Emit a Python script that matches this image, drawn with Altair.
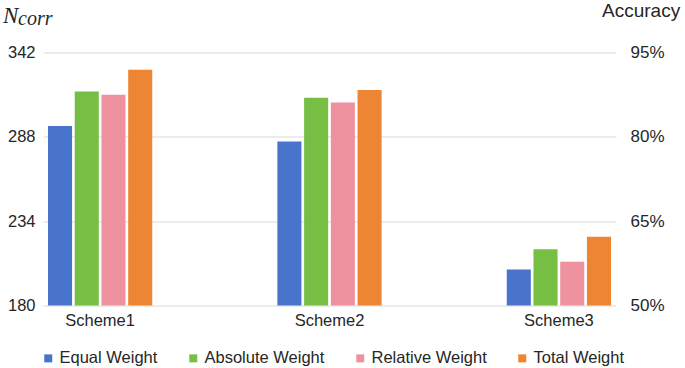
import altair as alt
import pandas as pd

# Categories and series
schemes = ["Scheme1", "Scheme2", "Scheme3"]
methods = ["Equal Weight", "Absolute Weight", "Relative Weight", "Total Weight"]
colors = ["#4874CB", "#77BE45", "#EE929F", "#EE8533"]

# Number of correctly handled samples per scheme
equal_weight = [295, 285, 203]
absolute_weight = [317, 313, 216]
relative_weight = [315, 310, 208]
total_weight = [331, 318, 224]

total_samples = 360  # accuracy = N_corr / total_samples

left_ticks = [180, 234, 288, 342]
right_ticks = [0.50, 0.65, 0.80, 0.95]

series = dict(zip(methods, [equal_weight, absolute_weight, relative_weight, total_weight]))
rows = []
for m, vals in series.items():
    for s, v in zip(schemes, vals):
        rows.append({"scheme": s, "method": m, "n_corr": v, "accuracy": v / total_samples})
df = pd.DataFrame(rows)

FONT = "Liberation Sans"
TEXT = "#262626"
W, H = 573, 253

x_scale = alt.Scale(paddingInner=0.502, paddingOuter=0)
x_enc = alt.X("scheme:N", sort=schemes, title=None, scale=x_scale,
              axis=alt.Axis(labelAngle=0, ticks=False, domain=False, labelPadding=7,
                            labelFontSize=16.5, labelFont=FONT, labelColor=TEXT, grid=False))
xo_enc = alt.XOffset("method:N", sort=methods,
                     scale=alt.Scale(paddingInner=0.1, paddingOuter=0.187))

bars = alt.Chart(df).mark_bar().encode(
    x=x_enc,
    xOffset=xo_enc,
    y=alt.Y("n_corr:Q", title=None,
            scale=alt.Scale(domain=[180, 342], zero=False, nice=False),
            axis=alt.Axis(values=left_ticks, ticks=False, domain=False, labelPadding=8,
                          labelFontSize=16.5, labelFont=FONT, labelColor=TEXT,
                          grid=True, gridColor="#D9D9D9", gridWidth=1)),
    y2=alt.datum(180),
    color=alt.Color("method:N", sort=methods,
                    scale=alt.Scale(domain=methods, range=colors),
                    legend=alt.Legend(title=None, orient="none", direction="horizontal",
                                      legendX=-3, legendY=297.5,
                                      symbolType="square", symbolSize=64, symbolStrokeWidth=0,
                                      labelOffset=3, columnPadding=27,
                                      labelFontSize=16.5, labelFont=FONT, labelColor=TEXT)),
)

acc_axis = alt.Chart(df).mark_bar(opacity=0).encode(
    x=alt.X("scheme:N", sort=schemes, scale=x_scale),
    xOffset=xo_enc,
    y=alt.Y("accuracy:Q",
            scale=alt.Scale(domain=[0.5, 0.95], zero=False, nice=False),
            axis=alt.Axis(orient="right", values=right_ticks, format=".0%", ticks=False,
                          domain=False, grid=False, labelPadding=14,
                          labelFontSize=17, labelFont=FONT, labelColor=TEXT,
                          title="Accuracy", titleAngle=0, titleAlign="left",
                          titleBaseline="alphabetic", titleX=-14.5, titleY=-36.5,
                          titleFontSize=19, titleFont=FONT, titleFontWeight="normal",
                          titleColor=TEXT)),
    y2=alt.datum(0.5),
)

# Left-axis title N_corr written as italic N with a subscript
title_main = alt.Chart(pd.DataFrame({"t": ["N"]})).mark_text(
    font="Liberation Serif", fontStyle="italic", fontSize=23, align="left",
    baseline="alphabetic", color=TEXT
).encode(x=alt.value(-40), y=alt.value(-29.5), text="t:N")

title_sub = alt.Chart(pd.DataFrame({"t": ["corr"]})).mark_text(
    font="Liberation Serif", fontStyle="italic", fontSize=20, align="left",
    baseline="alphabetic", color=TEXT
).encode(x=alt.value(-25), y=alt.value(-27.5), text="t:N")

chart = alt.layer(bars, acc_axis, title_main, title_sub).resolve_scale(
    y="independent"
).properties(
    width=W, height=H,
    autosize=alt.AutoSizeParams(type="none"),
    padding={"left": 43, "top": 52.5, "right": 69, "bottom": 62.5},
    background="white",
).configure_view(stroke=None)

chart.save("out.html", embed_options={"renderer": "svg", "actions": False})
